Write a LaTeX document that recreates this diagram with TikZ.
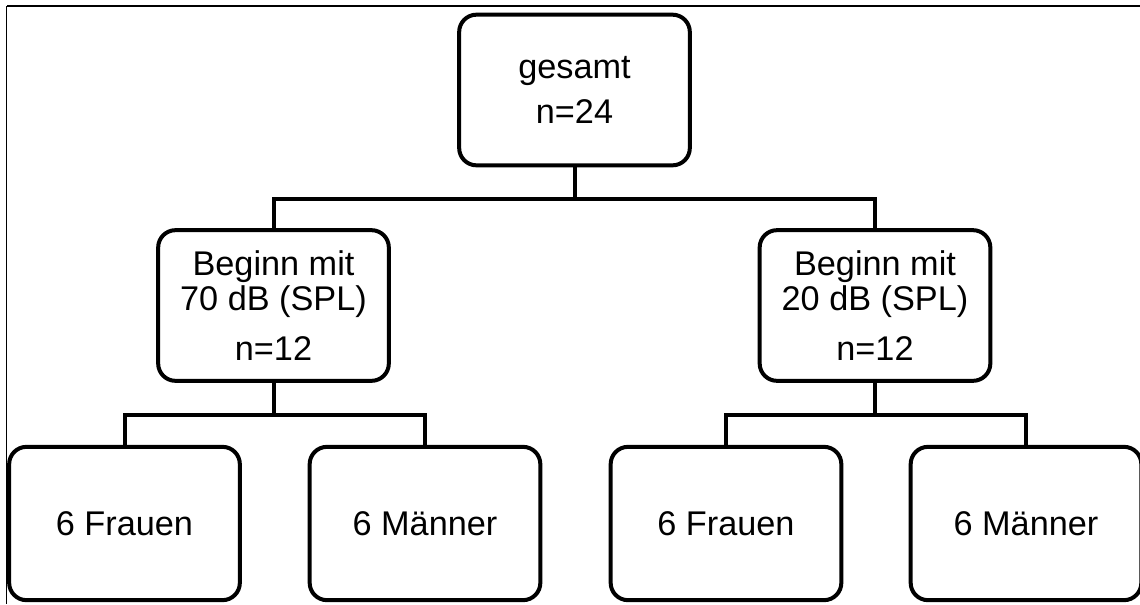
\documentclass[tikz,border=0pt]{standalone}
\usepackage{fontspec}
\setmainfont{Liberation Sans}

\tikzset{
    box/.style={draw, line width=3pt, rounded corners=13pt, align=center,
        minimum width=173pt, minimum height=113pt, inner sep=0pt,
        font=\fontsize{25.7pt}{26.25pt}\selectfont},
    leaf/.style={box, minimum height=115pt},
    link/.style={line width=3pt}
}

\begin{document}
\begin{tikzpicture}[x=0.75pt, y=-0.75pt]
    \useasboundingbox (0, 0) rectangle (1140, 604);

    % Frame
    \draw [line width=1.5pt] (1140, 6) -- (6.5, 6);
    \draw [line width=0.8pt] (6.5, 6) -- (6.5, 604);

    % Whole group
    \node [box] (gesamt) at (574.5, 90) {gesamt\\[8pt]n=24};

    % Starting levels
    \node [box] (start70) at (273.5, 305.5) {Beginn mit\\70 dB (SPL)\\[11pt]n=12};
    \node [box] (start20) at (875, 305.5) {Beginn mit\\20 dB (SPL)\\[11pt]n=12};

    % Subgroups
    \node [leaf] (frauen70) at (124.5, 523.5) {6 Frauen};
    \node [leaf] (maenner70) at (425, 523.5) {6 Männer};
    \node [leaf] (frauen20) at (726, 523.5) {6 Frauen};
    \node [leaf] (maenner20) at (1026, 523.5) {6 Männer};

    % Tree lines
    \draw [link] (gesamt.south) -- ++(0, 32) -| (start70.north);
    \draw [link] (gesamt.south) -- ++(0, 32) -| (start20.north);
    \draw [link] (start70.south) -- ++(0, 32) -| (frauen70.north);
    \draw [link] (start70.south) -- ++(0, 32) -| (maenner70.north);
    \draw [link] (start20.south) -- ++(0, 32) -| (frauen20.north);
    \draw [link] (start20.south) -- ++(0, 32) -| (maenner20.north);
\end{tikzpicture}
\end{document}
